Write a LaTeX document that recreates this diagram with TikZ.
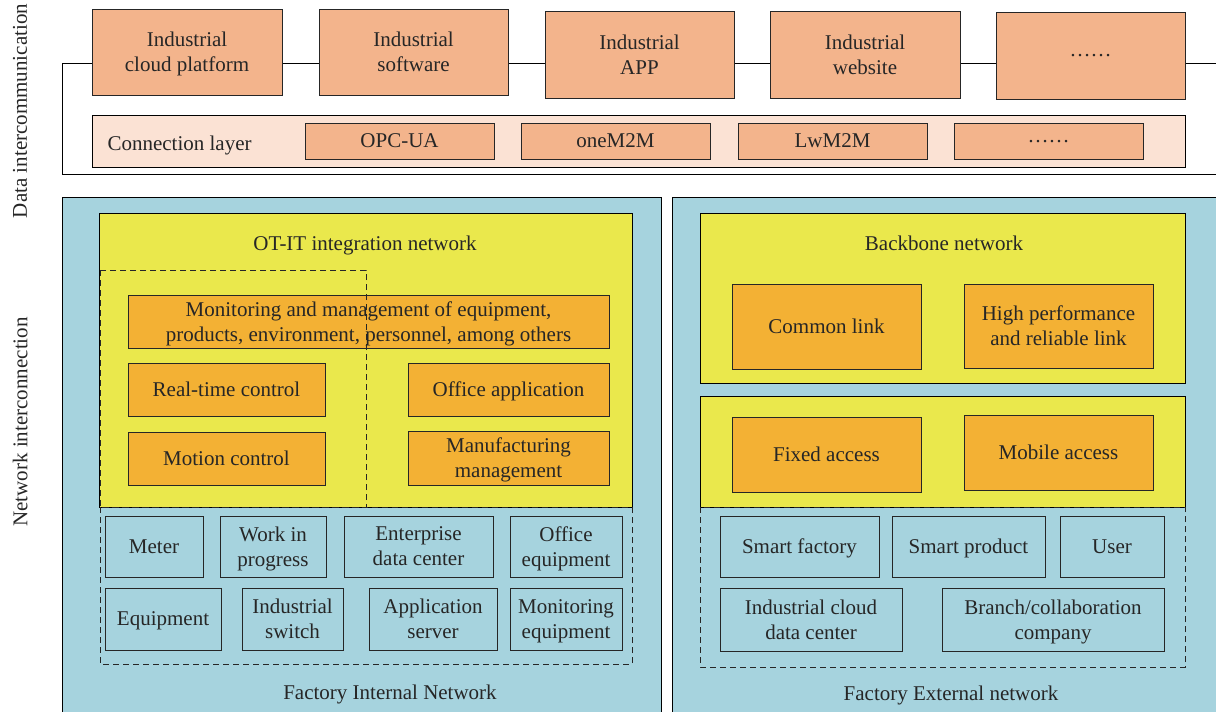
\documentclass[tikz,border=0pt]{standalone}
\usepackage{fontspec}
\setmainfont{Liberation Serif}
\usepackage{tikz}
\usetikzlibrary{positioning}
\definecolor{appcolor}{RGB}{243, 180, 140}
\definecolor{layercolor}{RGB}{251, 226, 212}
\definecolor{panelcolor}{RGB}{166, 211, 222}
\definecolor{netcolor}{RGB}{234, 232, 76}
\definecolor{funccolor}{RGB}{243, 177, 52}
\definecolor{inkcolor}{RGB}{38, 38, 38}

\begin{document}
\begin{tikzpicture}[x=1pt, y=-1pt,
  every node/.style={text=inkcolor, text depth=0pt, font=\fontsize{21}{25}\selectfont},
  box/.style={draw=black!85, line width=1pt, align=center, inner sep=0pt},
  appbox/.style={box, fill=appcolor},
  funcbox/.style={box, fill=funccolor},
  devbox/.style={box, fill=panelcolor},
  dashbox/.style={draw=black!85, line width=1pt, dash pattern=on 6pt off 4pt}]
  \clip (0,0) rectangle (1216,712);
  \fill[white] (0,0) rectangle (1216,712);

  % data intercommunication frame
  \draw[line width=1pt] (62,63) rectangle (1240,174);
  \node[appbox, minimum width=190pt, minimum height=86pt] (cloud) at (187,52) {Industrial\\cloud platform};
  \node[appbox, minimum width=189pt, minimum height=86pt] (software) at (413.5,52) {Industrial\\software};
  \node[appbox, minimum width=189pt, minimum height=87pt] (app) at (639.5,54.5) {Industrial\\APP};
  \node[appbox, minimum width=190pt, minimum height=87pt] (website) at (865,54.5) {Industrial\\website};
  \node[appbox, minimum width=189pt, minimum height=87pt] (moreapp) at (1090.5,55.5) {……};

  % connection layer
  \draw[line width=1pt, fill=layercolor] (92,115) rectangle (1185,167);
  \node[anchor=west] (connlabel) at (104,143) {Connection layer};
  \node[appbox, minimum width=189pt, minimum height=36pt] (opcua) at (399.5,141) {OPC-UA};
  \node[appbox, minimum width=189pt, minimum height=36pt] (onem2m) at (615.5,141) {oneM2M};
  \node[appbox, minimum width=189pt, minimum height=36pt] (lwm2m) at (832.5,141) {LwM2M};
  \node[appbox, minimum width=189pt, minimum height=36pt] (moreproto) at (1048.5,141) {……};

  % network panels
  \draw[line width=1pt, fill=panelcolor] (62,197) rectangle (661,740);
  \draw[line width=1pt, fill=panelcolor] (672,197) rectangle (1240,740);

  % factory internal network
  \draw[line width=1pt, fill=netcolor] (99,213) rectangle (632,507);
  \node (otit) at (365,243) {OT-IT integration network};
  \node[funcbox, minimum width=481pt, minimum height=53pt] (monitor) at (368.5,321.5) {Monitoring and management of equipment,\\products, environment, personnel, among others};
  \node[funcbox, minimum width=197pt, minimum height=53pt] (realtime) at (226.5,389.5) {Real-time control};
  \node[funcbox, minimum width=197pt, minimum height=53pt] (motion) at (226.5,458.5) {Motion control};
  \node[funcbox, minimum width=201pt, minimum height=53pt] (office) at (508.5,389.5) {Office application};
  \node[funcbox, minimum width=201pt, minimum height=54pt] (manuf) at (508.5,458) {Manufacturing\\management};

  \node[devbox, minimum width=98pt, minimum height=61pt] (meter) at (154,546.5) {Meter};
  \node[devbox, minimum width=106pt, minimum height=61pt] (wip) at (273,546.5) {Work in\\progress};
  \node[devbox, minimum width=149pt, minimum height=61pt] (edc) at (418.5,546.5) {Enterprise\\data center};
  \node[devbox, minimum width=112pt, minimum height=61pt] (officeeq) at (566,546.5) {Office\\equipment};
  \node[devbox, minimum width=116pt, minimum height=62pt] (equip) at (163,619) {Equipment};
  \node[devbox, minimum width=101pt, minimum height=62pt] (iswitch) at (292.5,619) {Industrial\\switch};
  \node[devbox, minimum width=128pt, minimum height=62pt] (appserver) at (433,619) {Application\\server};
  \node[devbox, minimum width=112pt, minimum height=62pt] (monitoreq) at (566,619) {Monitoring\\equipment};

  \draw[dashbox] (100,270) rectangle (366,507);
  \draw[dashbox] (100,507) rectangle (632,664);
  \node (internal) at (390,692) {Factory Internal Network};

  % factory external network
  \draw[line width=1pt, fill=netcolor] (700,213) rectangle (1185,383);
  \node (backbone) at (944,243) {Backbone network};
  \node[funcbox, minimum width=189pt, minimum height=85pt] (common) at (826.5,326.5) {Common link};
  \node[funcbox, minimum width=189pt, minimum height=84pt] (reliable) at (1058.5,326) {High performance\\and reliable link};

  \draw[line width=1pt, fill=netcolor] (700,396) rectangle (1185,507);
  \node[funcbox, minimum width=189pt, minimum height=75pt] (fixed) at (826.5,454.5) {Fixed access};
  \node[funcbox, minimum width=189pt, minimum height=75pt] (mobile) at (1058.5,452.5) {Mobile access};

  \node[devbox, minimum width=159pt, minimum height=61pt] (sfactory) at (799.5,546.5) {Smart factory};
  \node[devbox, minimum width=153pt, minimum height=61pt] (sproduct) at (968.5,546.5) {Smart product};
  \node[devbox, minimum width=104pt, minimum height=61pt] (user) at (1112,546.5) {User};
  \node[devbox, minimum width=182pt, minimum height=63pt] (clouddc) at (811,619.5) {Industrial cloud\\data center};
  \node[devbox, minimum width=222pt, minimum height=63pt] (branch) at (1053,619.5) {Branch/collaboration\\company};

  \draw[dashbox] (700,507) rectangle (1185,667);
  \node (external) at (951,693) {Factory External network};

  % side labels
  \node[rotate=90] (datalabel) at (20,111) {Data intercommunication};
  \node[rotate=90] (netlabel) at (20,422) {Network interconnection};
\end{tikzpicture}
\end{document}
